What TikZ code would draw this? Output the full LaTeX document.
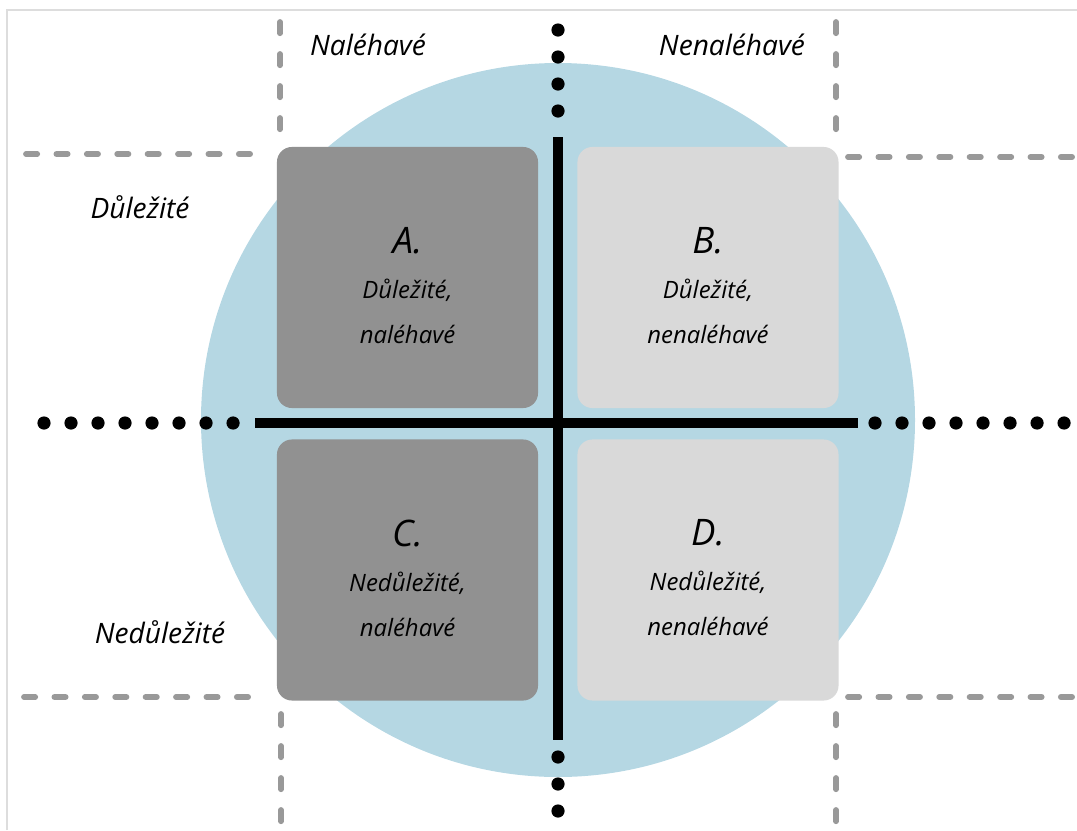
\documentclass[tikz,border=0pt]{standalone}
\usepackage{fontspec}
\setmainfont{Open Sans}
\usetikzlibrary{positioning,calc}
\definecolor{platecolor}{HTML}{B5D7E3}
\definecolor{darkbox}{HTML}{919191}
\definecolor{lightbox}{HTML}{D9D9D9}
\definecolor{guidegray}{HTML}{999999}
\definecolor{framegray}{HTML}{DDDDDD}
\tikzset{
    quadrant/.style={
        rectangle,
        rounded corners=0.375cm,
        minimum width=6.525cm,
        minimum height=6.525cm,
        align=center,
        inner sep=0pt
    },
    handtext/.style={
        font=\fontsize{20}{24}\selectfont\itshape
    },
    guideline/.style={
        draw=guidegray,
        line width=0.145cm,
        line cap=round
    }
}

\begin{document}
\begin{tikzpicture}[x=0.025cm, y=-0.025cm]

    % Rozmery obrazku
    \useasboundingbox (0,0) rectangle (1077,830);
    \draw[framegray, line width=0.04cm] (7,830) -- (7,10) -- (1077,10);

    % Kruh v pozadi
    \fill[platecolor] (558,420) circle [radius=357*0.025cm];

    % Sede prerusovane cary
    \tikzset{
        hguide/.style={guideline, dash pattern=on 0.28cm off 0.48cm},
        vguide/.style={guideline, dash pattern=on 0.28cm off 0.52cm}
    }
    \draw[hguide] (26,154) -- (265,154);
    \draw[hguide] (848,157) -- (1077,157);
    \draw[hguide] (24,697) -- (265,697);
    \draw[hguide] (848,697) -- (1077,697);
    \draw[vguide] (280,22) -- (280,138);
    \draw[vguide] (836,22) -- (836,138);
    \draw[vguide] (281,714) -- (281,830);
    \draw[vguide] (836,714) -- (836,830);

    % Ctverce
    \node[quadrant, fill=darkbox] (A) at (407.5,277.5) {};
    \node[quadrant, fill=lightbox] (B) at (708,277.5) {};
    \node[quadrant, fill=darkbox] (C) at (407.5,570) {};
    \node[quadrant, fill=lightbox] (D) at (708,570) {};

    % Texty ve ctvercich
    \tikzset{
        boxtext/.style={align=center, font=\fontsize{17}{32}\selectfont\itshape}
    }
    \node[boxtext] (At) at ($(A.center)+(0,8)$) {{\fontsize{26}{30}\selectfont A.}\\Důležité,\\naléhavé};
    \node[boxtext] (Bt) at ($(B.center)+(0,8)$) {{\fontsize{26}{30}\selectfont B.}\\Důležité,\\nenaléhavé};
    \node[boxtext] (Ct) at ($(C.center)+(0,8)$) {{\fontsize{26}{30}\selectfont C.}\\Nedůležité,\\naléhavé};
    \node[boxtext] (Dt) at ($(D.center)+(0,8)$) {{\fontsize{26}{30}\selectfont D.}\\Nedůležité,\\nenaléhavé};

    % Osy
    \coordinate (top) at (558,137);
    \coordinate (bottom) at (558,740);
    \coordinate (left) at (255,423);
    \coordinate (right) at (858,423);
    \draw[line width=0.25cm] (top) -- (bottom);
    \draw[line width=0.25cm] (left) -- (right);

    % Teckovane pokracovani os
    \tikzset{
        dotline/.style={line width=0.33cm, line cap=round, dash pattern=on 0pt off 0.675cm}
    }
    \draw[dotline] (558,30) -- (558,112);
    \draw[dotline] (558,757) -- (558,830);
    \draw[dotline] (44,423) -- (234,423);
    \draw[dotline] (875,423) -- (1066,423);

    % Popisky
    \node[handtext] (urgent) at (368,45) {Naléhavé};
    \node[handtext] (noturgent) at (732,45) {Nenaléhavé};
    \node[handtext] (important) at (140,207) {Důležité};
    \node[handtext] (notimportant) at (160,632) {Nedůležité};

\end{tikzpicture}
\end{document}
